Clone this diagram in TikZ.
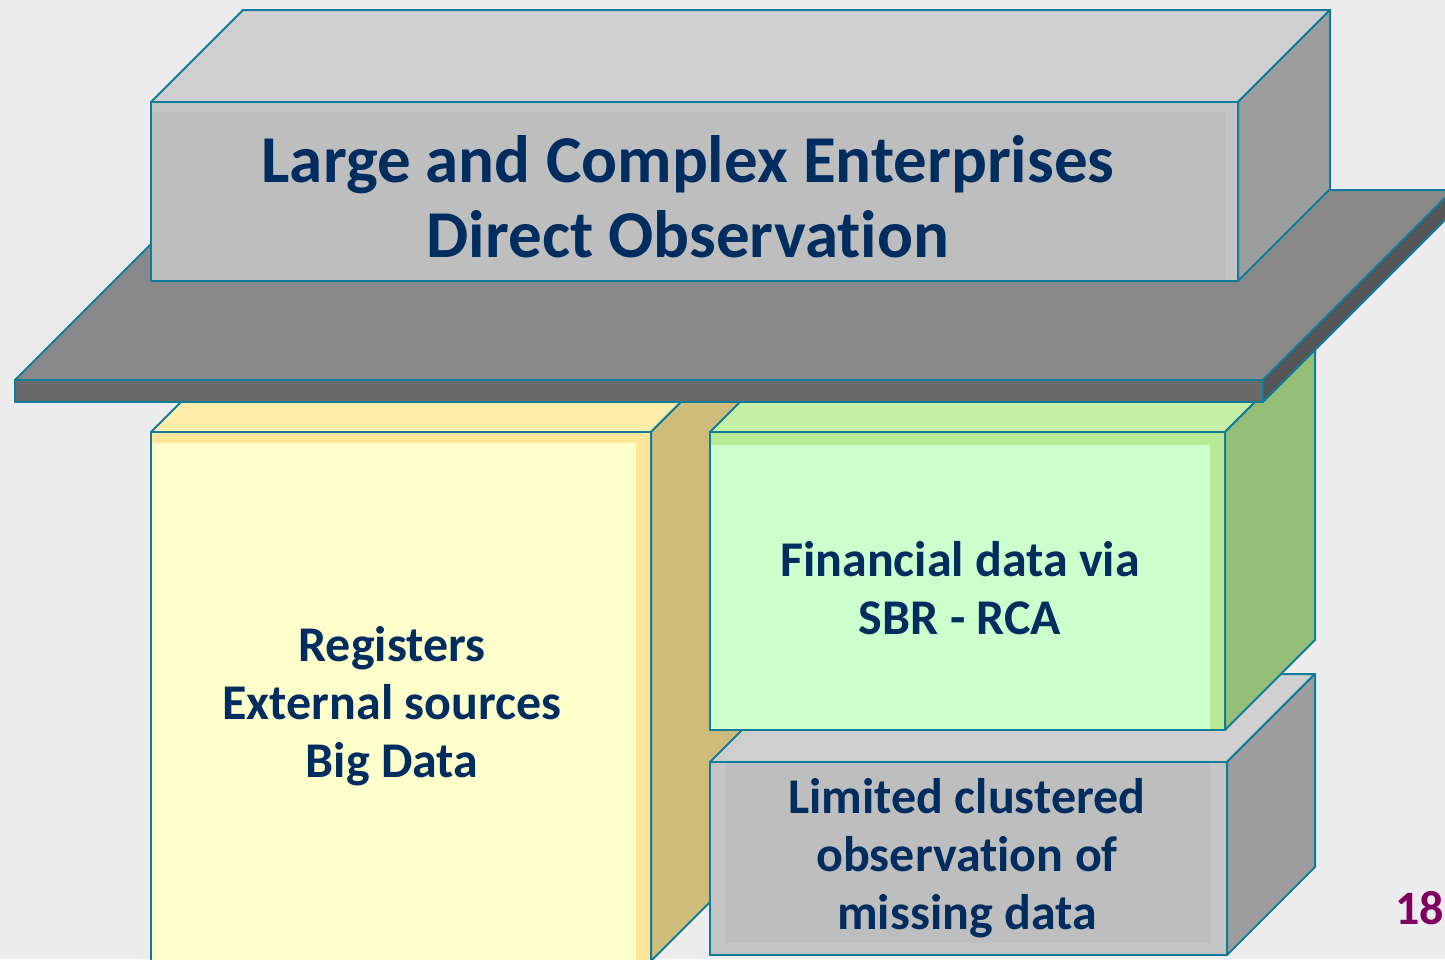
\documentclass[tikz,border=0pt]{standalone}
\usepackage{fontspec}
\setmainfont{Carlito}[Ligatures=NoCommon]
\usepackage{tikz}

\definecolor{bgpage}{RGB}{236,236,236}
\definecolor{edge}{RGB}{16,124,154}
\definecolor{navy}{RGB}{0,45,95}
\definecolor{plum}{RGB}{128,0,96}
% faces of the blocks
\definecolor{greytop}{RGB}{207,207,207}
\definecolor{greyband}{RGB}{196,196,196}
\definecolor{greyfront}{RGB}{190,190,190}
\definecolor{greyside}{RGB}{157,157,157}
\definecolor{platetop}{RGB}{137,137,137}
\definecolor{platefront}{RGB}{106,106,106}
\definecolor{plateside}{RGB}{85,85,85}
\definecolor{yeltop}{RGB}{255,237,171}
\definecolor{yelband}{RGB}{255,230,153}
\definecolor{yelfront}{RGB}{255,255,204}
\definecolor{yelside}{RGB}{205,188,122}
\definecolor{grntop}{RGB}{198,239,166}
\definecolor{grnband}{RGB}{184,233,148}
\definecolor{grnfront}{RGB}{204,255,204}
\definecolor{grnside}{RGB}{147,191,120}

\tikzset{
  face/.style={draw=edge, line width=1pt, line join=round},
  rim/.style={draw=edge, line width=1pt},
  lbl/.style={text=navy, align=center, font=\bfseries\fontsize{25}{29}\selectfont},
}

\begin{document}
\begin{tikzpicture}[x=0.5pt,y=-0.5pt]
    \useasboundingbox (0,0) rectangle (1445,959);
    \fill[bgpage] (0,0) rectangle (1445,959);
    \clip (0,0) rectangle (1445,959);

    % yellow block
    \fill[yeltop,face] (151,432) -- (241,342) -- (741,342) -- (651,432) -- cycle;
    \fill[yelside,face] (651,432) -- (741,342) -- (741,871) -- (651,961) -- cycle;
    \fill[yelband] (151,432) rectangle (651,961);
    \fill[yelfront] (151,443) rectangle (636,961);
    \draw[rim] (151,432) rectangle (651,961);

    % lower grey block
    \fill[greytop,face] (710,762) -- (798,674) -- (1315,674) -- (1227,762) -- cycle;
    \fill[greyside,face] (1227,762) -- (1315,674) -- (1315,867) -- (1227,955) -- cycle;
    \fill[greyband] (710,762) rectangle (1227,955);
    \fill[greyfront] (726,762) rectangle (1210,943);
    \draw[rim] (710,762) rectangle (1227,955);

    % green block
    \fill[grntop,face] (710,432) -- (800,342) -- (1315,342) -- (1225,432) -- cycle;
    \fill[grnside,face] (1225,432) -- (1315,342) -- (1315,640) -- (1225,730) -- cycle;
    \fill[grnband] (710,432) rectangle (1225,730);
    \fill[grnfront] (710,445) rectangle (1210,730);
    \draw[rim] (710,432) rectangle (1225,730);

    % plate
    \fill[platetop,face] (15,380) -- (205,190) -- (1453,190) -- (1263,380) -- cycle;
    \fill[plateside,face] (1263,380) -- (1453,190) -- (1453,212) -- (1263,402) -- cycle;
    \fill[platefront,face] (15,380) rectangle (1263,402);

    % top block
    \fill[greytop,face] (151,102) -- (243,10) -- (1330,10) -- (1238,102) -- cycle;
    \fill[greyside,face] (1238,102) -- (1330,10) -- (1330,189) -- (1238,281) -- cycle;
    \fill[greyband] (151,102) rectangle (1238,281);
    \fill[greyfront] (151,112) rectangle (1225,281);
    \draw[rim] (151,102) rectangle (1238,281);

    \node[lbl, font=\bfseries\fontsize{33.5}{37.5}\selectfont] (title) at (688,197)
        {Large and Complex Enterprises\\Direct Observation};
    \node[lbl] (sources) at (392,706) {Registers\\External sources\\Big Data};
    \node[lbl] (finance) at (960,588) {Financial data via\\SBR - RCA};
    \node[lbl] (limited) at (967,858) {Limited clustered\\observation of\\missing data};
    \node[anchor=west, text=plum, font=\bfseries\fontsize{24}{29}\selectfont] (page) at (1388,908) {18};
\end{tikzpicture}
\end{document}
